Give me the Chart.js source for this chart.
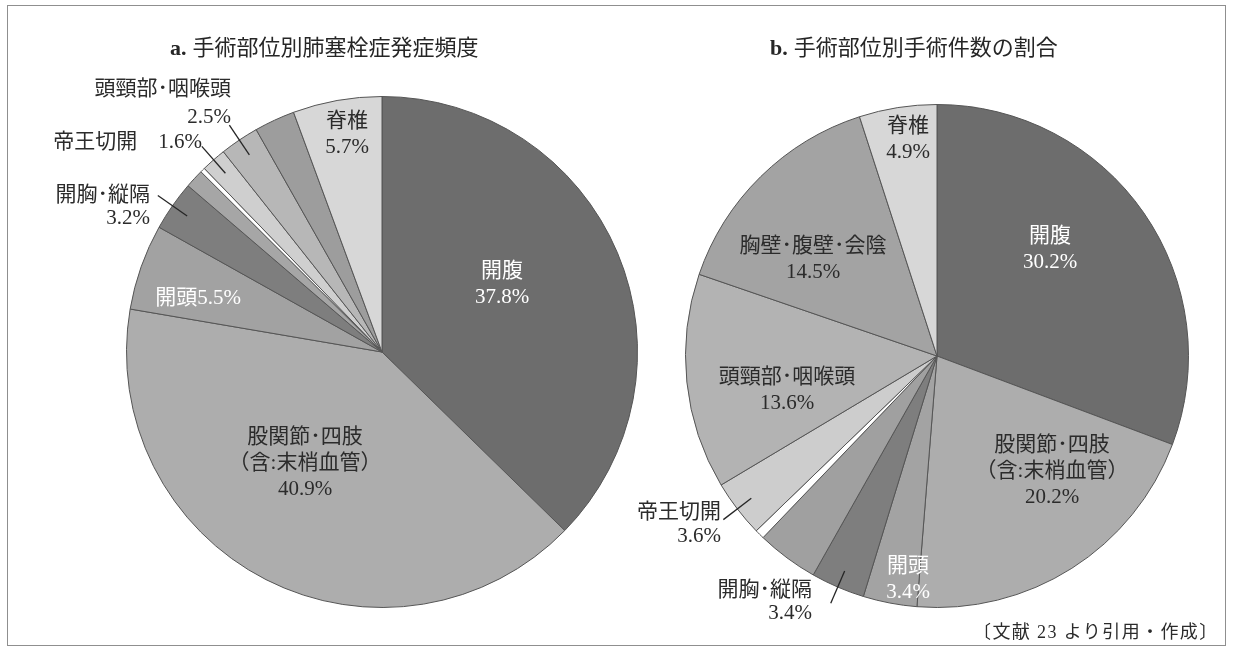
<!DOCTYPE html>
<html lang="ja">
<head>
<meta charset="utf-8">
<title>手術部位別肺塞栓症発症頻度／手術件数の割合</title>
<script src="https://cdn.jsdelivr.net/npm/chart.js@4.4.1/dist/chart.umd.min.js"></script>
<style>
  html, body { margin: 0; padding: 0; background: #fff; }
  body { position: relative; width: 1233px; height: 653px; overflow: hidden;
         font-family: "Liberation Serif", "Noto Sans CJK JP", serif; color: #2b2b2b; }
  .frame { position: absolute; left: 7px; top: 5px; width: 1219px; height: 641px;
           border: 1px solid #8f8f8f; box-sizing: border-box; }
  canvas { position: absolute; left: 0; top: 0; }
  .title { position: absolute; font-size: 22px; line-height: 26px; white-space: nowrap; color: #262626; }
  .title b { font-family: "Liberation Serif", serif; font-weight: bold; margin-right: 6px; }
  .note { position: absolute; left: 973px; top: 620px; font-size: 18px; line-height: 24px;
          letter-spacing: 1.4px; white-space: nowrap; color: #2b2b2b; }
</style>
</head>
<body>
<div class="frame"></div>
<canvas id="chartA" width="1233" height="653"></canvas>
<canvas id="chartB" width="1233" height="653"></canvas>
<div class="title" id="titleA" style="left:170px; top:35px;"></div>
<div class="title" id="titleB" style="left:770px; top:35px;"></div>
<div class="note" id="note"></div>

<script>
// ---- data -------------------------------------------------------------
const CATEGORIES = ['開腹', '股関節･四肢（含:末梢血管）', '開頭', '開胸･縦隔', 'その他',
                    '記載なし', '帝王切開', '頭頸部･咽喉頭', '胸壁･腹壁･会陰', '脊椎'];
// a. share of pulmonary embolism cases by surgical site (%)
const PE_SHARE   = [37.8, 40.9, 5.5, 3.2, 1.2, 0.3, 1.6, 2.5, 2.6, 5.7];
// b. share of operations by surgical site (%)
const CASE_SHARE = [30.2, 20.2, 3.4, 3.4, 3.9, 0.6, 3.6, 13.6, 14.5, 4.9];
const PANEL_TAGS   = ['a.', 'b.'];
const PANEL_TITLES = ['手術部位別肺塞栓症発症頻度', '手術部位別手術件数の割合'];
const SOURCE_NOTE  = '〔文献 23 より引用・作成〕';

// ---- styles -----------------------------------------------------------
const FILL_A = ['#6d6d6d', '#adadad', '#a2a2a2', '#7e7e7e', '#a6a6a6',
                '#ffffff', '#cfcfcf', '#b7b7b7', '#9d9d9d', '#d7d7d7'];
const FILL_B = ['#6d6d6d', '#adadad', '#a3a3a3', '#7e7e7e', '#a0a0a0',
                '#ffffff', '#cdcdcd', '#b3b3b3', '#a3a3a3', '#d7d7d7'];
const DARK = '#2b2b2b';
const LIGHT = '#ffffff';
const LABEL_FONT = '21px "Liberation Serif", "Noto Sans CJK JP", serif';

// label placement, relative to the pie centre (px); '{v}' is replaced by the value
const LABELS_A = [
  { lines: ['開腹', '{v}'], dx: 120, dy: -68, color: LIGHT },
  { lines: ['股関節･四肢', '（含:末梢血管）', '{v}'], dx: -77, dy: 111 },
  { lines: ['開頭{v}'], dx: -184, dy: -54, color: LIGHT },
  { lines: ['開胸･縦隔', '{v}'], outside: true, rx: -232, ty: -157, lh: 23 },
  null,
  null,
  { lines: ['帝王切開　{v}'], outside: true, rx: -180, ty: -210, lh: 24 },
  { lines: ['頭頸部･咽喉頭', '{v}'], outside: true, rx: -151, ty: -263, lh: 28 },
  null,
  { lines: ['脊椎', '{v}'], dx: -35, dy: -218 },
];
const LABELS_B = [
  { lines: ['開腹', '{v}'], dx: 113, dy: -107, color: LIGHT },
  { lines: ['股関節･四肢', '（含:末梢血管）', '{v}'], dx: 115, dy: 115 },
  { lines: ['開頭', '{v}'], dx: -29, dy: 223, color: LIGHT },
  { lines: ['開胸･縦隔', '{v}'], outside: true, rx: -125, ty: 234, lh: 23 },
  null,
  null,
  { lines: ['帝王切開', '{v}'], outside: true, rx: -216, ty: 156, lh: 24 },
  { lines: ['頭頸部･咽喉頭', '{v}'], dx: -150, dy: 34 },
  { lines: ['胸壁･腹壁･会陰', '{v}'], dx: -124, dy: -97 },
  { lines: ['脊椎', '{v}'], dx: -29, dy: -217 },
];

// ---- slice labels and leader lines ------------------------------------
function sliceLabels(specs) {
  return {
    id: 'sliceLabels',
    afterDatasetsDraw(chart) {
      const ctx = chart.ctx;
      const meta = chart.getDatasetMeta(0);
      const values = chart.data.datasets[0].data;
      ctx.save();
      ctx.font = LABEL_FONT;
      ctx.textBaseline = 'middle';
      meta.data.forEach((arc, i) => {
        const s = specs[i];
        if (!s) return;
        const { x, y, outerRadius: r, startAngle, endAngle } = arc.getProps(
          ['x', 'y', 'outerRadius', 'startAngle', 'endAngle'], true);
        const text = s.lines.map(t => t.replace('{v}', values[i].toFixed(1) + '%'));
        ctx.fillStyle = s.color || DARK;
        if (s.outside) {
          const mid = (startAngle + endAngle) / 2;
          ctx.strokeStyle = '#262626';
          ctx.lineWidth = 1.3;
          ctx.beginPath();
          ctx.moveTo(x + Math.cos(mid) * r * 1.07, y + Math.sin(mid) * r * 1.07);
          ctx.lineTo(x + Math.cos(mid) * r * 0.93, y + Math.sin(mid) * r * 0.93);
          ctx.stroke();
          ctx.textAlign = 'right';
          text.forEach((t, k) => ctx.fillText(t, x + s.rx, y + s.ty + k * s.lh));
        } else {
          const lh = s.lh || 26;
          const top = y + s.dy - (text.length - 1) * lh / 2;
          ctx.textAlign = 'center';
          text.forEach((t, k) => ctx.fillText(t, x + s.dx, top + k * lh));
        }
      });
      ctx.restore();
    }
  };
}

function makePie(id, values, fills, labels, padding) {
  return new Chart(document.getElementById(id), {
    type: 'pie',
    data: {
      labels: CATEGORIES,
      datasets: [{
        data: values,
        backgroundColor: fills,
        borderColor: '#555555',
        borderWidth: 1,
      }]
    },
    options: {
      responsive: false,
      animation: false,
      layout: { padding },
      plugins: { legend: { display: false }, tooltip: { enabled: false } },
    },
    plugins: [sliceLabels(labels)]
  });
}

makePie('chartA', PE_SHARE, FILL_A, LABELS_A, { left: 126, right: 1233 - 638, top: 96, bottom: 653 - 608 });
makePie('chartB', CASE_SHARE, FILL_B, LABELS_B, { left: 685, right: 1233 - 1189, top: 104, bottom: 653 - 608 });

// ---- titles and note ----------------------------------------------------
['titleA', 'titleB'].forEach((id, i) => {
  const el = document.getElementById(id);
  const tag = document.createElement('b');
  tag.textContent = PANEL_TAGS[i];
  el.appendChild(tag);
  el.appendChild(document.createTextNode(PANEL_TITLES[i]));
});
document.getElementById('note').textContent = SOURCE_NOTE;
</script>
</body>
</html>
